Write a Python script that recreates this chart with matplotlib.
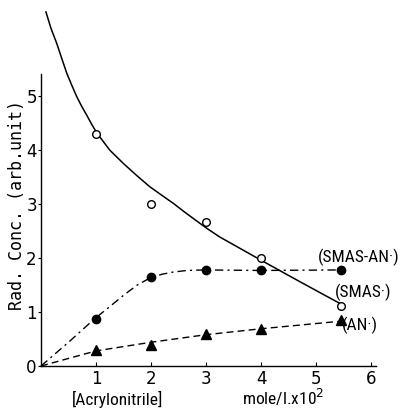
import matplotlib
matplotlib.use("Agg")
import matplotlib.pyplot as plt
from matplotlib import font_manager

# measured points
x_pts = [1, 2, 3, 4, 5.45]
smas = [4.3, 3.0, 2.67, 2.0, 1.12]
smas_an = [0.87, 1.65, 1.78, 1.77, 1.78]
an = [0.29, 0.38, 0.59, 0.68, 0.85]

# drawn curves
smas_curve_x = [0.09, 0.18, 0.285, 0.38, 0.47, 0.56, 0.65, 0.74, 0.83, 0.92, 1.02, 1.25, 1.5,
                1.75, 1.98, 2.2, 2.41, 2.6, 2.8, 3.0, 3.25, 4.0, 4.71, 5.45]
smas_curve_y = [6.56, 6.26, 5.98, 5.69, 5.42, 5.2, 4.99, 4.81, 4.65, 4.48, 4.31, 4.0, 3.75,
                3.52, 3.32, 3.16, 3.01, 2.86, 2.71, 2.56, 2.39, 1.96, 1.56, 1.15]
sa_curve_x = [0.0, 0.5, 0.98, 1.25, 1.5, 1.75, 1.98, 2.2, 2.4, 2.65, 2.95, 4.0, 5.45]
sa_curve_y = [0.0, 0.44, 0.88, 1.1, 1.31, 1.5, 1.63, 1.7, 1.74, 1.77, 1.78, 1.77, 1.78]
an_curve_x = [0.0, 1.0, 2.0, 3.0, 4.0, 5.45]
an_curve_y = [0.0, 0.28, 0.44, 0.58, 0.69, 0.83]

labels = ["(SMAS-AN·)", "(SMAS·)", "(AN·)"]
xlabel_parts = ["[Acrylonitrile]", "mole/l.x10$^2$"]
ylabel = "Rad. Conc. (arb.unit)"

# use a condensed face if one is installed, else plain DejaVu Sans at a smaller size
names = {f.name for f in font_manager.fontManager.ttflist}
cond = None
for cand in ['DejaVu Sans Condensed', 'Liberation Sans Narrow', 'Roboto Condensed', 'Open Sans Condensed']:
    if cand in names:
        cond = cand
        break
if cond:
    lab_font, lab_size, xl_size = [cond, 'DejaVu Sans'], 12.5, 12.5
else:
    lab_font, lab_size, xl_size = ['DejaVu Sans'], 10.5, 11.5

plt.rcParams['font.family'] = ['DejaVu Sans']
fig = plt.figure(figsize=(4.12, 4.09), dpi=100)
ax = fig.add_axes([41/412, 43/409, 335/412, 292/409])
ax.set_xlim(0, 6.09)
ax.set_ylim(0, 5.41)

ax.plot(smas_curve_x, smas_curve_y, color='black', lw=1.1, clip_on=False)
ax.plot(sa_curve_x, sa_curve_y, color='black', lw=1.0, dashes=(6, 3, 1.5, 3), clip_on=False)
ax.plot(an_curve_x, an_curve_y, color='black', lw=1.0, dashes=(5, 3), clip_on=False)

ax.plot(x_pts, smas, 'o', mfc='white', mec='black', ms=5.5, mew=1.0, clip_on=False, zorder=5)
ax.plot(x_pts, smas_an, 'o', color='black', ms=6, clip_on=False, zorder=5)
ax.plot(x_pts, an, '^', color='black', ms=6.5, clip_on=False, zorder=5)

for s in ['top', 'right']:
    ax.spines[s].set_visible(False)
ax.spines['left'].set_linewidth(1.0)
ax.spines['bottom'].set_linewidth(1.0)

ax.set_xticks([1, 2, 3, 4, 5, 6])
ax.set_yticks([0, 1, 2, 3, 4, 5])
ax.tick_params(axis='x', direction='in', length=3, labelsize=12, pad=3)
ax.tick_params(axis='y', direction='out', length=2, labelsize=12, pad=1)

# y label (letter-spaced technical lettering -> monospace)
ax.text(-0.44, 2.98, ylabel, transform=ax.transData, rotation=90, ha='center', va='center',
        fontsize=12, family=['DejaVu Sans Mono'], clip_on=False)

# x label in two parts
ax.text(1.4, -0.72, xlabel_parts[0], ha='center', va='baseline', fontsize=xl_size,
        family=lab_font, clip_on=False)
ax.text(4.4, -0.72, xlabel_parts[1], ha='center', va='baseline', fontsize=xl_size,
        family=lab_font, clip_on=False)

ax.text(5.03, 1.93, labels[0], fontsize=lab_size, ha='left', va='baseline', family=lab_font, clip_on=False)
ax.text(5.34, 1.28, labels[1], fontsize=lab_size, ha='left', va='baseline', family=lab_font, clip_on=False)
ax.text(5.47, 0.67, labels[2], fontsize=lab_size, ha='left', va='baseline', family=lab_font, clip_on=False)

fig.savefig("out.png", dpi=100)
